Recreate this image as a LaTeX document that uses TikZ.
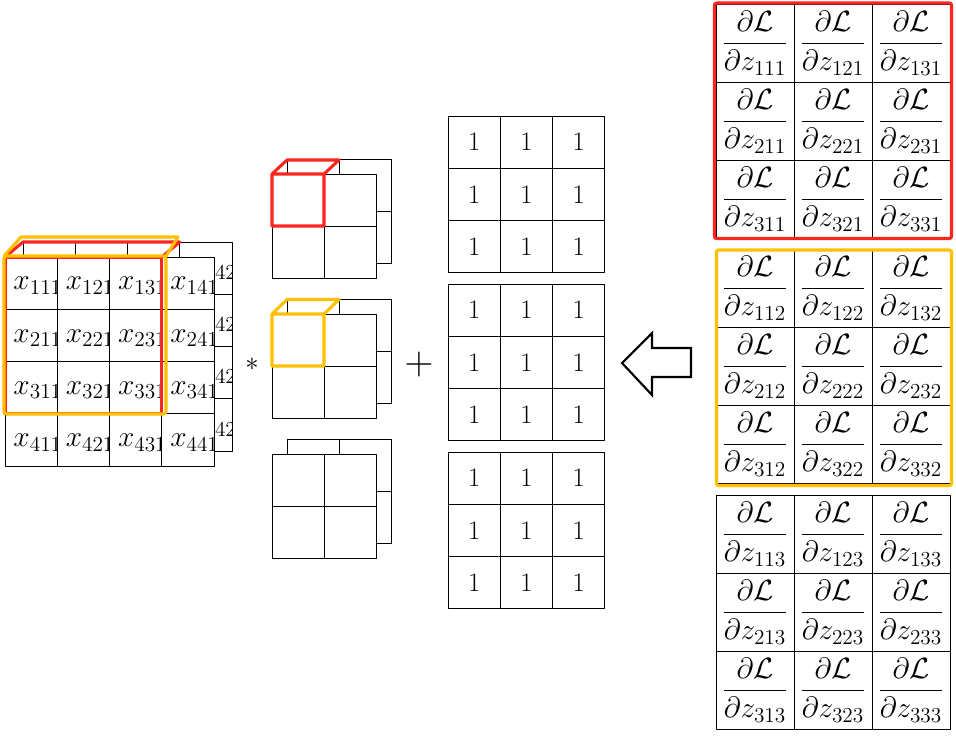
\documentclass[tikz,border=0pt]{standalone}
\usepackage{fix-cm}
\usepackage{amsmath}
\DeclareMathSizes{22}{22}{16}{12}
\definecolor{redline}{RGB}{252,38,30}
\definecolor{goldline}{RGB}{255,192,0}
\begin{document}
\begin{tikzpicture}[x=0.75pt, y=-0.75pt, line join=round, line width=0.75pt,
  every node/.style={inner sep=0pt},
  entry/.style={anchor=west, yshift=-2pt, font=\fontsize{22}{26}\selectfont},
  one/.style={font=\fontsize{20}{24}\selectfont},
  grad/.style={font=\fontsize{22}{26}\selectfont},
  redcube/.style={draw=redline, line width=2.3pt},
  goldcube/.style={draw=goldline, line width=2.3pt}]
\useasboundingbox (0,0) rectangle (956,736);
\def\cx{52.25}
% input volume: second slice behind the first
\filldraw[fill=white] (23,242) rectangle ++(4*\cx,4*\cx);
\foreach \k in {1,2,3} {
  \draw ({23+\k*\cx},242) -- ++(0,4*\cx);
  \draw (23,{242+\k*\cx}) -- ++(4*\cx,0);
}
\foreach \i in {1,...,4} {
  \begin{scope}
    \clip ({23+3*\cx},{242+(\i-1)*\cx}) rectangle ++(\cx,\cx);
    \node[entry] (b\i) at ({31+3*\cx},{242+(\i-0.5)*\cx}) {$x_{\i42}$};
  \end{scope}
}
\filldraw[fill=white] (5,257) rectangle ++(4*\cx,4*\cx);
\foreach \k in {1,2,3} {
  \draw ({5+\k*\cx},257) -- ++(0,4*\cx);
  \draw (5,{257+\k*\cx}) -- ++(4*\cx,0);
}
\foreach \i in {1,...,4} \foreach \j in {1,...,4} {
  \begin{scope}
    \clip ({5+(\j-1)*\cx},{257+(\i-1)*\cx}) rectangle ++(\cx,\cx);
    \node[entry] (x\i\j) at ({13+(\j-1)*\cx},{257+(\i-0.5)*\cx}) {$x_{\i\j1}$};
  \end{scope}
}
\draw[redcube] (5,257) rectangle ++(3*\cx,3*\cx);
\draw[redcube] (5,257) -- (23,242) -- ({23+3*\cx},242) -- ({5+3*\cx},257);
\draw[goldcube, rounded corners=2pt] (4,256) rectangle (166,414);
\draw[goldcube] (4,256) -- (21,237) -- (178,237) -- (166,256);
\node[font=\fontsize{20}{24}\selectfont] (star) at (252,364) {$*$};
% kernels
\foreach \t in {174,314,454} {
  \filldraw[fill=white] (287,{\t-14.5}) rectangle ++(104,104);
  \draw (339,{\t-14.5}) -- ++(0,104);
  \draw (287,{\t+37.5}) -- ++(104,0);
  \filldraw[fill=white] (272,\t) rectangle ++(104,104);
  \draw (324,\t) -- ++(0,104);
  \draw (272,{\t+52}) -- ++(104,0);
}
\draw[redcube] (272,174) rectangle (324,226) (272,174) -- (287,160) -- (339,160) -- (324,174);
\draw[goldcube] (272,314) rectangle (324,366) (272,314) -- (287,299.5) -- (339,299.5) -- (324,314);
\node[font=\fontsize{30}{34}\selectfont] (plus) at (419,364) {$+$};
% bias terms
\foreach \t/\m in {116/1,284/2,452/3} {
  \draw (448,\t) rectangle ++(3*\cx,3*\cx);
  \foreach \k in {1,2} {
    \draw ({448+\k*\cx},\t) -- ++(0,3*\cx);
    \draw (448,{\t+\k*\cx}) -- ++(3*\cx,0);
  }
  \foreach \i in {1,2,3} \foreach \j in {1,2,3}
    \node[one] (o\m\i\j) at ({448+(\j-0.5)*\cx},{\t+(\i-0.5)*\cx}) {1};
}
\draw[line width=1.6pt, line join=miter] (622,363) -- (652,333) -- (652,348) -- (691,348)
  -- (691,377) -- (652,377) -- (652,395) -- cycle;
% upstream gradients
\foreach \t/\m in {4/1,249/2,495/3} {
  \draw (716,\t) rectangle ++(234,234);
  \foreach \k in {1,2} {
    \draw ({716+78*\k},\t) -- ++(0,234);
    \draw (716,{\t+78*\k}) -- ++(234,0);
  }
  \foreach \i in {1,2,3} \foreach \j in {1,2,3}
    \node[grad] (g\i\j\m) at ({716+(\j-0.5)*78},{\t+(\i-0.5)*78})
      {$\dfrac{\partial\mathcal{L}}{\partial z_{\i\j\m}}$};
}
\draw[redcube, rounded corners=1.5pt] (714.5,3) rectangle (951.5,238.5);
\draw[goldcube, rounded corners=1.5pt] (716.5,250) rectangle (951.5,485.5);
\end{tikzpicture}
\end{document}
